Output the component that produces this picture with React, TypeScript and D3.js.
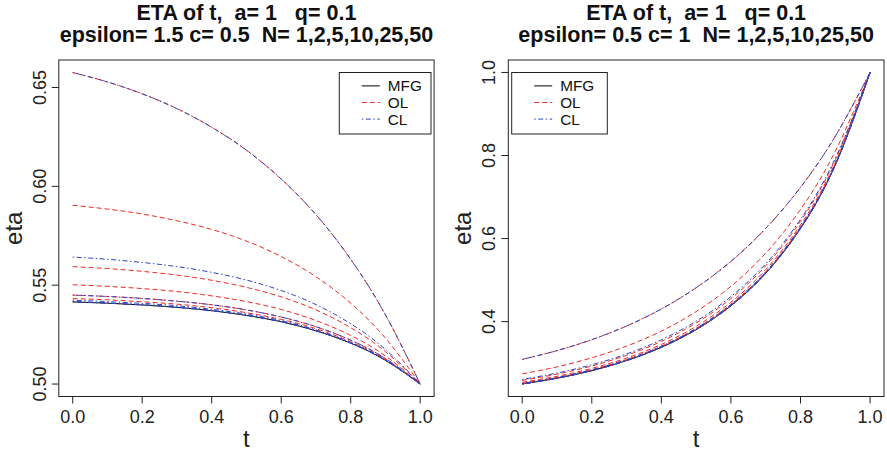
import React, { useEffect } from 'react';
import * as d3 from 'd3';

// ---------- data ----------
const T_VALUES = [0, 0.1, 0.2, 0.3, 0.4, 0.5, 0.6, 0.7, 0.8, 0.9, 1.0];
const N_VALUES = [1, 2, 5, 10, 25, 50];
const X_TICKS = [0, 0.2, 0.4, 0.6, 0.8, 1.0];
const LEFT_Y_TICKS = [0.5, 0.55, 0.6, 0.65];
const RIGHT_Y_TICKS = [0.4, 0.6, 0.8, 1.0];
const SERIES_NAMES = ['MFG', 'OL', 'CL'];

const LEFT_TITLE = ['ETA of t,  a= 1   q= 0.1', 'epsilon= 1.5 c= 0.5  N= 1,2,5,10,25,50'];
const RIGHT_TITLE = ['ETA of t,  a= 1   q= 0.1', 'epsilon= 0.5 c= 1  N= 1,2,5,10,25,50'];
const X_LABEL = 't';
const Y_LABEL = 'eta';

// left panel (epsilon = 1.5, c = 0.5)
const LEFT_MFG = [0.5415, 0.5409, 0.5400, 0.5388, 0.5371, 0.5347, 0.5315, 0.5269, 0.5207, 0.5120, 0.5];
const LEFT_OL = [
  [0.6576, 0.6528, 0.6468, 0.6393, 0.6299, 0.6183, 0.6037, 0.5857, 0.5631, 0.5350, 0.5],
  [0.5904, 0.5885, 0.5860, 0.5826, 0.5782, 0.5723, 0.5645, 0.5543, 0.5409, 0.5232, 0.5],
  [0.5594, 0.5584, 0.5570, 0.5551, 0.5525, 0.5489, 0.5441, 0.5375, 0.5285, 0.5164, 0.5],
  [0.5502, 0.5494, 0.5483, 0.5468, 0.5446, 0.5417, 0.5377, 0.5321, 0.5246, 0.5142, 0.5],
  [0.5450, 0.5443, 0.5433, 0.5419, 0.5401, 0.5375, 0.5339, 0.5290, 0.5222, 0.5129, 0.5],
  [0.5432, 0.5426, 0.5416, 0.5404, 0.5386, 0.5361, 0.5327, 0.5280, 0.5214, 0.5124, 0.5],
];
const LEFT_CL = [
  [0.6576, 0.6528, 0.6468, 0.6393, 0.6299, 0.6183, 0.6037, 0.5857, 0.5631, 0.5350, 0.5],
  [0.5642, 0.5631, 0.5615, 0.5594, 0.5565, 0.5526, 0.5473, 0.5402, 0.5305, 0.5175, 0.5],
  [0.5450, 0.5443, 0.5433, 0.5419, 0.5401, 0.5375, 0.5339, 0.5290, 0.5222, 0.5129, 0.5],
  [0.5424, 0.5417, 0.5408, 0.5396, 0.5378, 0.5354, 0.5321, 0.5274, 0.5210, 0.5122, 0.5],
  [0.5417, 0.5410, 0.5401, 0.5389, 0.5372, 0.5348, 0.5316, 0.5270, 0.5207, 0.5120, 0.5],
  [0.5416, 0.5409, 0.5400, 0.5388, 0.5371, 0.5348, 0.5315, 0.5270, 0.5207, 0.5120, 0.5],
];

// right panel (epsilon = 0.5, c = 1)
const RIGHT_MFG = [0.2496, 0.2635, 0.2818, 0.3060, 0.3380, 0.3807, 0.4381, 0.5162, 0.6243, 0.7771, 1.0];
const RIGHT_OL = [
  [0.3089, 0.3301, 0.3565, 0.3894, 0.4304, 0.4815, 0.5451, 0.6245, 0.7233, 0.8465, 1.0],
  [0.2739, 0.2909, 0.3128, 0.3409, 0.3771, 0.4240, 0.4850, 0.5648, 0.6700, 0.8103, 1.0],
  [0.2584, 0.2735, 0.2931, 0.3187, 0.3523, 0.3967, 0.4555, 0.5345, 0.6418, 0.7900, 1.0],
  [0.2538, 0.2683, 0.2873, 0.3122, 0.3450, 0.3885, 0.4466, 0.5252, 0.6329, 0.7835, 1.0],
  [0.2513, 0.2654, 0.2840, 0.3084, 0.3407, 0.3837, 0.4414, 0.5198, 0.6277, 0.7796, 1.0],
  [0.2504, 0.2645, 0.2829, 0.3072, 0.3394, 0.3822, 0.4398, 0.5180, 0.6260, 0.7784, 1.0],
];
const RIGHT_CL = [
  [0.3089, 0.3301, 0.3565, 0.3894, 0.4304, 0.4815, 0.5451, 0.6245, 0.7233, 0.8465, 1.0],
  [0.2608, 0.2761, 0.2961, 0.3221, 0.3562, 0.4009, 0.4602, 0.5393, 0.6463, 0.7933, 1.0],
  [0.2513, 0.2654, 0.2840, 0.3084, 0.3407, 0.3837, 0.4414, 0.5198, 0.6277, 0.7796, 1.0],
  [0.2500, 0.2640, 0.2824, 0.3066, 0.3387, 0.3814, 0.4389, 0.5171, 0.6251, 0.7777, 1.0],
  [0.2497, 0.2636, 0.2819, 0.3061, 0.3381, 0.3808, 0.4382, 0.5164, 0.6244, 0.7772, 1.0],
  [0.2496, 0.2635, 0.2819, 0.3060, 0.3380, 0.3807, 0.4381, 0.5162, 0.6243, 0.7771, 1.0],
];

// ---------- styles ----------
const FONT = '"Liberation Sans", Arial, Helvetica, sans-serif';
const COLORS = { MFG: '#000000', OL: '#ee2a24', CL: '#2d44c4' };
const DASH = { MFG: undefined, OL: '5,3', CL: '1.5,2.5,5,2.5' };
const AXIS_COLOR = '#222';

type PanelProps = {
  x0: number; x1: number; y0: number; y1: number;
  mfg: number[]; ol: number[][]; cl: number[][];
  yTicks: number[]; yDigits: number; title: string[];
  legendX: number; legendW: number;
};

function Panel({ x0, x1, y0, y1, mfg, ol, cl, yTicks, yDigits, title, legendX, legendW }: PanelProps) {
  const x = d3.scaleLinear().domain([-0.04, 1.04]).range([x0, x1]);
  const all = [...mfg, ...ol.flat(), ...cl.flat()];
  const [lo, hi] = d3.extent(all) as [number, number];
  const pad = (hi - lo) * 0.04;
  const y = d3.scaleLinear().domain([lo - pad, hi + pad]).range([y1, y0]);
  const line = d3
    .line<number>()
    .x((_, i) => x(T_VALUES[i]))
    .y((d) => y(d))
    .curve(d3.curveNatural);
  const cx = (x0 + x1) / 2;
  const cy = (y0 + y1) / 2;
  const legendY = 72.5;
  const legendH = 61.5;
  const rowY = [13.4, 30, 46.6];

  return (
    <g fontFamily={FONT}>
      {/* curves */}
      <path d={line(mfg) || ''} fill="none" stroke={COLORS.MFG} strokeWidth={1} />
      {N_VALUES.map((n, k) => (
        <path key={'ol' + n} d={line(ol[k]) || ''} fill="none" stroke={COLORS.OL} strokeWidth={1} strokeDasharray={DASH.OL} />
      ))}
      {N_VALUES.map((n, k) => (
        <path key={'cl' + n} d={line(cl[k]) || ''} fill="none" stroke={COLORS.CL} strokeWidth={1} strokeDasharray={DASH.CL} />
      ))}

      {/* box */}
      <rect x={x0} y={y0} width={x1 - x0} height={y1 - y0} fill="none" stroke={AXIS_COLOR} strokeWidth={1} />

      {/* x axis */}
      <line x1={x(X_TICKS[0])} x2={x(X_TICKS[X_TICKS.length - 1])} y1={y1} y2={y1} stroke={AXIS_COLOR} />
      {X_TICKS.map((t) => (
        <g key={'xt' + t}>
          <line x1={x(t)} x2={x(t)} y1={y1} y2={y1 + 7} stroke={AXIS_COLOR} />
          <text x={x(t)} y={423.3} textAnchor="middle" fontSize={18} fill="#222">
            {t.toFixed(1)}
          </text>
        </g>
      ))}
      <text x={cx} y={447} textAnchor="middle" fontSize={24} fill="#222">
        {X_LABEL}
      </text>

      {/* y axis */}
      {yTicks.map((v) => (
        <g key={'yt' + v}>
          <line x1={x0 - 7} x2={x0} y1={y(v)} y2={y(v)} stroke={AXIS_COLOR} />
          <text transform={`translate(${x0 - 13.1},${y(v)}) rotate(-90)`} textAnchor="middle" fontSize={18} fill="#222">
            {v.toFixed(yDigits)}
          </text>
        </g>
      ))}
      <text transform={`translate(${x0 - 37},${cy}) rotate(-90)`} textAnchor="middle" fontSize={24} fill="#222">
        {Y_LABEL}
      </text>

      {/* title */}
      <text x={cx} y={19.5} textAnchor="middle" fontSize={21.5} fontWeight="bold" fill="#111" style={{ whiteSpace: 'pre' }}>
        {title[0]}
      </text>
      <text x={cx} y={42} textAnchor="middle" fontSize={21.5} fontWeight="bold" fill="#111" style={{ whiteSpace: 'pre' }}>
        {title[1]}
      </text>

      {/* legend */}
      <rect x={legendX} y={legendY} width={legendW} height={legendH} fill="white" stroke={AXIS_COLOR} />
      {SERIES_NAMES.map((name, i) => (
        <g key={'lg' + name}>
          <line
            x1={legendX + 22.5}
            x2={legendX + 40.5}
            y1={legendY + rowY[i]}
            y2={legendY + rowY[i]}
            stroke={(COLORS as any)[name]}
            strokeDasharray={(DASH as any)[name]}
          />
          <text x={legendX + 48.5} y={legendY + rowY[i] + 5.5} fontSize={15.3} fill="#111">
            {name}
          </text>
        </g>
      ))}
    </g>
  );
}

export default function App() {
  useEffect(() => {
    document.body.style.margin = '0';
  }, []);
  return (
    <svg width={887} height={453} style={{ display: 'block', background: 'white' }}>
      <rect x={0} y={0} width={887} height={453} fill="white" />
      <Panel
        x0={58.8} x1={434.1} y0={60} y1={396.5}
        mfg={LEFT_MFG} ol={LEFT_OL} cl={LEFT_CL}
        yTicks={LEFT_Y_TICKS} yDigits={2} title={LEFT_TITLE}
        legendX={339.3} legendW={91.7}
      />
      <Panel
        x0={508.3} x1={884} y0={60} y1={396.5}
        mfg={RIGHT_MFG} ol={RIGHT_OL} cl={RIGHT_CL}
        yTicks={RIGHT_Y_TICKS} yDigits={1} title={RIGHT_TITLE}
        legendX={511.7} legendW={95.6}
      />
    </svg>
  );
}
